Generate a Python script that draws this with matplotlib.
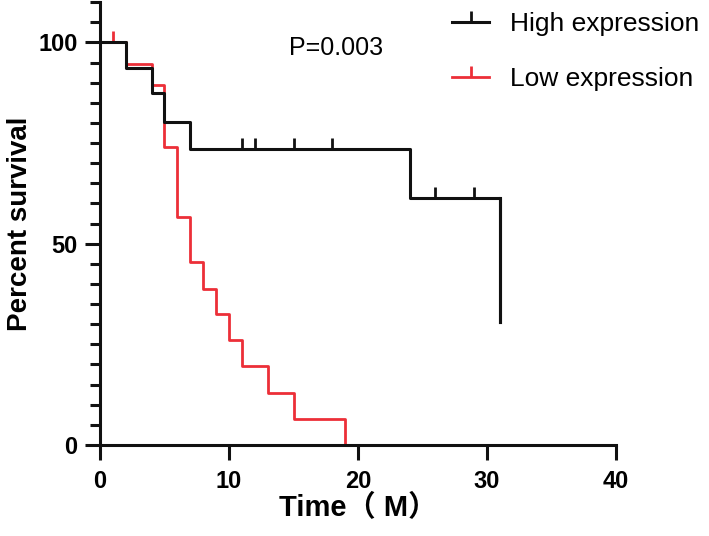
import matplotlib
matplotlib.use('Agg')
import matplotlib.pyplot as plt
from matplotlib.lines import Line2D

plt.rcParams['font.family'] = ['Liberation Sans', 'Noto Sans CJK SC', 'DejaVu Sans']

# Kaplan-Meier steps (time in months, percent survival)
high_t = [0, 2, 4, 5, 7, 24, 31]
high_s = [100, 93.75, 87.5, 80.2, 73.5, 61.25, 30.6]
high_cens_t = [11, 12, 15, 18, 26, 29]
high_cens_s = [73.5, 73.5, 73.5, 73.5, 61.25, 61.25]

low_t = [0, 2, 4, 5, 6, 7, 8, 9, 10, 11, 13, 15, 19]
low_s = [100, 94.7, 89.5, 73.9, 56.7, 45.4, 38.8, 32.4, 26.0, 19.5, 13.0, 6.4, 0]
low_cens_t = [1]
low_cens_s = [100]

x_ticks = [0, 10, 20, 30, 40]
y_ticks = [0, 50, 100]

BLACK = '#111111'
RED = '#ec2f38'

fig = plt.figure(figsize=(7.09, 5.36), dpi=100)
ax = fig.add_axes([0.141, 0.170, 0.728, 0.826])

# last point of the high curve just drops, no tail after it
ax.step(high_t, high_s, where='post', color=BLACK, lw=2.2, zorder=3)
ax.plot([high_t[-1], high_t[-1]], [high_s[-2], high_s[-1]], color=BLACK, lw=2.2, zorder=3)
ax.step(low_t, low_s, where='post', color=RED, lw=2.0, zorder=2)

ax.plot(high_cens_t, high_cens_s, ls='none', marker=2, ms=8, mew=2, color=BLACK, zorder=3)
ax.plot(low_cens_t, low_cens_s, ls='none', marker=2, ms=8, mew=2, color=RED, zorder=2)

ax.set_xlim(0, 40)
ax.set_ylim(0, 110)
ax.set_xticks(x_ticks)
ax.set_yticks(y_ticks)
ax.set_yticks(range(0, 111, 5), minor=True)

for s in ['top', 'right']:
    ax.spines[s].set_visible(False)
for s in ['left', 'bottom']:
    ax.spines[s].set_linewidth(2.2)
    ax.spines[s].set_color(BLACK)

ax.tick_params(axis='both', which='major', length=11, width=2.2, color=BLACK,
               labelsize=17, pad=5)
ax.tick_params(axis='x', which='major', pad=7)
ax.tick_params(axis='y', which='minor', length=7, width=2.2, color=BLACK)
for lab in ax.get_xticklabels() + ax.get_yticklabels():
    lab.set_fontweight('bold')

ax.set_xlabel('Time（ M）', fontsize=21, fontweight='bold', labelpad=1)
ax.set_ylabel('Percent survival', fontsize=20, fontweight='bold', labelpad=4)
ax.patch.set_alpha(0)

fig.text(0.474, 0.91, 'P=0.003', fontsize=18, ha='center', va='center')

leg = fig.legend(handles=[Line2D([0], [0], color=BLACK, lw=2.2, marker=2, ms=8, mew=2),
                          Line2D([0], [0], color=RED, lw=2.0, marker=2, ms=8, mew=2)],
                 labels=['High expression', 'Low expression'],
                 loc='upper left', bbox_to_anchor=(0.638, 0.978), frameon=False,
                 borderpad=0, borderaxespad=0, numpoints=1,
                 fontsize=19, handlelength=1.4, handletextpad=0.8, labelspacing=1.2)

fig.savefig('out.png', dpi=100)
